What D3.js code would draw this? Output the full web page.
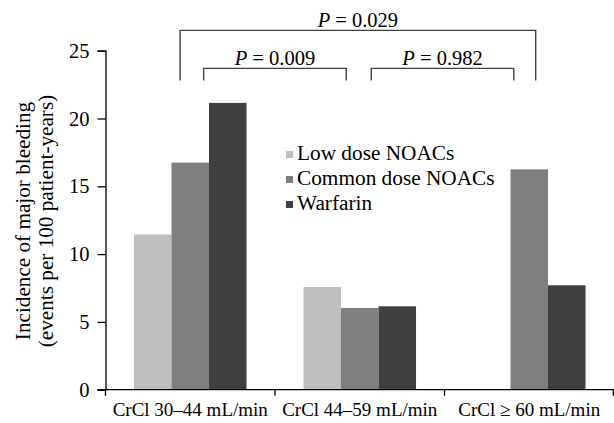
<!DOCTYPE html>
<html><head><meta charset="utf-8">
<script src="https://cdn.jsdelivr.net/npm/d3@7/dist/d3.min.js"></script>
<style>
body{margin:0;background:#fff;}
text{font-family:"Liberation Serif","Times New Roman",serif;fill:#000;}
</style></head>
<body><svg id="c" width="614" height="423"></svg>
<script>
const categories = ["CrCl 30\u201344 mL/min", "CrCl 44\u201359 mL/min", "CrCl \u2265 60 mL/min"];
const seriesNames = ["Low dose NOACs", "Common dose NOACs", "Warfarin"];
const lowDose = [11.45, 7.57, null];
const commonDose = [16.75, 6.03, 16.25];
const warfarin = [21.15, 6.15, 7.7];
const seriesColors = ["#bfbfbf", "#7f7f7f", "#3f3f3f"];
const yTicks = [0, 5, 10, 15, 20, 25];
// comparisons: [from position, to position (in category index units), level]
const comparisons = [
  {label: "0.029", from: 0.44, to: 2.538, top: 26.5},
  {label: "0.009", from: 0.579, to: 1.42, top: 23.7},
  {label: "0.982", from: 1.568, to: 2.409, top: 23.7}
];
const bracketBottom = 22.8;

(function(){
const svg = d3.select("#c");
const pl = 105.5, pr = 614, pb = 389.7, pt = 50.7;
const y = d3.scaleLinear().domain([0, 25]).range([pb, pt]);
const x0 = d3.scaleBand().domain(categories).range([pl, pr]).padding(0);
const bw = x0.bandwidth();
const x1 = d3.scaleBand().domain(seriesNames).range([bw * 0.168, bw * 0.832]).padding(0);
const xPos = d3.scaleLinear().domain([0, categories.length]).range([pl, pr]);

const seriesVals = [lowDose, commonDose, warfarin];

// bars
const groups = svg.append("g").selectAll("g").data(categories).join("g")
  .attr("transform", d => `translate(${x0(d)},0)`);
groups.selectAll("rect")
  .data((c, ci) => seriesNames.map((s, si) => ({s, si, v: seriesVals[si][ci]})).filter(d => d.v != null))
  .join("rect")
  .attr("x", d => x1(d.s))
  .attr("width", x1.bandwidth())
  .attr("y", d => y(d.v))
  .attr("height", d => y(0) - y(d.v))
  .attr("fill", d => seriesColors[d.si]);

// y axis
const yAxis = svg.append("g").attr("transform", `translate(${pl},0)`)
  .call(d3.axisLeft(y).tickValues(yTicks).tickSize(8).tickPadding(8).tickSizeOuter(8));
yAxis.selectAll("path,line").attr("stroke", "#000").attr("stroke-width", 1.3);
yAxis.selectAll("text").attr("font-size", 20.5);

// x axis
const xg = svg.append("g");
xg.append("line").attr("x1", pl - 8).attr("x2", pr).attr("y1", pb).attr("y2", pb)
  .attr("stroke", "#000").attr("stroke-width", 1.3);
const bounds = categories.map(c => x0(c)).concat([pr - 0.7]);
xg.selectAll("line.t").data(bounds).join("line").attr("class", "t")
  .attr("x1", d => d).attr("x2", d => d).attr("y1", pb).attr("y2", pb + 6)
  .attr("stroke", "#000").attr("stroke-width", 1.3);
xg.selectAll("text").data(categories).join("text")
  .attr("x", d => x0(d) + bw / 2).attr("y", 416)
  .attr("text-anchor", "middle").attr("font-size", 19).text(d => d);

// y title
const yt = svg.append("g").attr("transform", "translate(0,221) rotate(-90)");
yt.append("text").attr("x", 0).attr("y", 30).attr("text-anchor", "middle").attr("font-size", 21.2)
  .text("Incidence of major bleeding");
yt.append("text").attr("x", 0).attr("y", 53).attr("text-anchor", "middle").attr("font-size", 21.2)
  .text("(events per 100 patient-years)");

// legend
const lg = svg.append("g");
seriesNames.forEach((s, i) => {
  const by = 160 + i * 25;
  lg.append("rect").attr("x", 286).attr("y", by - 9).attr("width", 7).attr("height", 7).attr("fill", seriesColors[i]);
  lg.append("text").attr("x", 297).attr("y", by).attr("font-size", 21.3).text(s);
});

// comparison brackets
const bg = svg.append("g");
comparisons.forEach(c => {
  const xa = xPos(c.from), xb = xPos(c.to), yt2 = y(c.top), yb = y(bracketBottom);
  bg.append("path").attr("d", `M${xa},${yb}V${yt2}H${xb}V${yb}`)
    .attr("fill", "none").attr("stroke", "#404040").attr("stroke-width", 1.4);
  const t = bg.append("text").attr("x", (xa + xb) / 2).attr("y", yt2 - 3)
    .attr("text-anchor", "middle").attr("font-size", 20.5);
  t.append("tspan").attr("font-style", "italic").text("P");
  t.append("tspan").text(" = " + c.label);
});
})();
</script></body></html>
